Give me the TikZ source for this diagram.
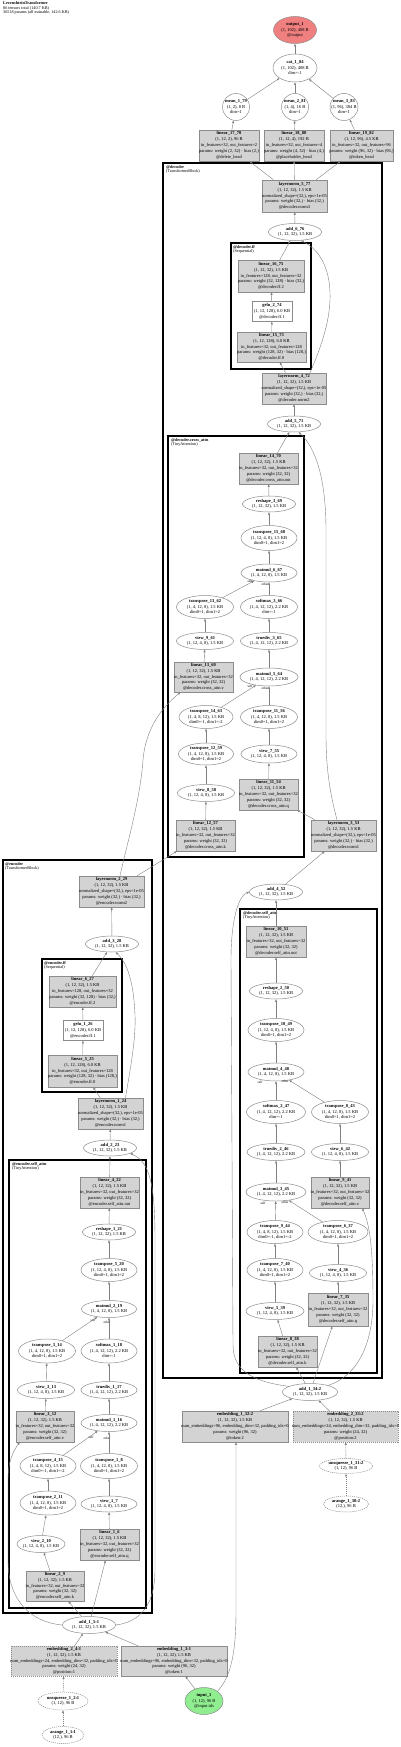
\documentclass[tikz,border=0pt]{standalone}
\usepackage{fontspec}
\setmainfont{Liberation Serif}
\usetikzlibrary{shapes.geometric,arrows.meta}
\definecolor{opGray}{RGB}{211,211,211}
\definecolor{outRed}{RGB}{240,128,128}
\definecolor{inGreen}{RGB}{144,238,144}
\newcommand{\Ntext}[1]{\makebox[0pt]{\raisebox{-0.25em}[0pt][0pt]{\begin{tabular}{@{}c@{}}#1\end{tabular}}}}
\tikzset{
  sz/.style 2 args={minimum width=#1pt,minimum height=#2pt},
  tbox/.style={rectangle,draw=black!45,fill=opGray,line width=0.5pt,inner sep=0pt,font=\fontsize{4.5}{5.8}\selectfont},
  wbox/.style={tbox,fill=white},
  opnode/.style={ellipse,draw=black!45,fill=white,line width=0.5pt,inner sep=0pt,font=\fontsize{4.5}{5.8}\selectfont},
  ghost/.style={dash pattern=on 1.1pt off 0.9pt},
  cluster/.style={draw=black,line width=1.4pt},
  clab/.style={anchor=north west,align=left,inner sep=0pt,font=\fontsize{4.2}{4.6}\selectfont},
  hdr/.style={anchor=north west,align=left,inner sep=0pt,font=\fontsize{4.2}{4.4}\selectfont},
  flow/.style={-{Triangle[length=2.6pt,width=2pt]},draw=black!50,line width=0.4pt},
  elab/.style={inner sep=0pt,font=\fontsize{3.4}{4}\selectfont},
}
\begin{document}
\catcode`\_=12
\begin{tikzpicture}[x=1pt,y=-1pt]
\fill[white] (0,0) rectangle (400,1747);
\useasboundingbox (0,0) rectangle (400,1747);

% clusters
\draw[cluster] (163,163) rectangle (382,1378);
\draw[cluster] (231,243) rectangle (311,369);
\draw[cluster] (168,436) rectangle (304,857);
\draw[cluster] (240,909) rectangle (377,1373);
\draw[cluster] (3,860) rectangle (152,1613);
\draw[cluster] (42,959) rectangle (122,1092);
\draw[cluster] (9,1160) rectangle (146,1608);
\node[clab] (decLab) at (166,165) {\textbf{@decoder}\\(TransformerBlock)};
\node[clab] (decffLab) at (233,245) {\textbf{@decoder.ff}\\(Sequential)};
\node[clab] (crossLab) at (171,438) {\textbf{@decoder.cross_attn}\\(TinyAttention)};
\node[clab] (dsaLab) at (243,911) {\textbf{@decoder.self_attn}\\(TinyAttention)};
\node[clab] (encLab) at (5,862) {\textbf{@encoder}\\(TransformerBlock)};
\node[clab] (encffLab) at (44,961) {\textbf{@encoder.ff}\\(Sequential)};
\node[clab] (esaLab) at (12,1162) {\textbf{@encoder.self_attn}\\(TinyAttention)};

\node[hdr] (title) at (3,1.5) {\textbf{LevenshteinTransformer}\\86 tensors total (140.7 KB)\\36518 params (all trainable, 142.6 KB)};

% heads
\node[opnode,fill=outRed,sz={43}{27}] (out1) at (295,30) {\Ntext{\textbf{output_1}\\(1, 102), 408 B\\@output}};
\node[opnode,sz={44}{28}] (cat1) at (295,68) {\Ntext{\textbf{cat_1_84}\\(1, 102), 408 B\\dim=-1}};
\node[opnode,sz={27}{27}] (mean1) at (236,107) {\Ntext{\textbf{mean_1_79}\\(1, 2), 8 B\\dim=1}};
\node[opnode,sz={27}{27}] (mean2) at (295,107) {\Ntext{\textbf{mean_2_81}\\(1, 4), 16 B\\dim=1}};
\node[opnode,sz={28}{27}] (mean3) at (344,107) {\Ntext{\textbf{mean_3_83}\\(1, 96), 384 B\\dim=1}};
\node[tbox,sz={60}{31}] (lin17) at (229,145.5) {\Ntext{\textbf{linear_17_78}\\(1, 12, 2), 96 B\\in_features=32, out_features=2\\params: weight (2, 32) · bias (2,)\\@delete_head}};
\node[tbox,sz={60}{31}] (lin18) at (294,145.5) {\Ntext{\textbf{linear_18_80}\\(1, 12, 4), 192 B\\in_features=32, out_features=4\\params: weight (4, 32) · bias (4,)\\@placeholder_head}};
\node[tbox,sz={63}{31}] (lin19) at (361.5,145.5) {\Ntext{\textbf{linear_19_82}\\(1, 12, 96), 4.5 KB\\in_features=32, out_features=96\\params: weight (96, 32) · bias (96,)\\@token_head}};

% decoder
\node[tbox,sz={65}{32}] (ln5) at (294.5,196) {\Ntext{\textbf{layernorm_5_77}\\(1, 12, 32), 1.5 KB\\normalized_shape=(32,), eps=1e-05\\params: weight (32,) · bias (32,)\\@decoder.norm3}};
\node[opnode,sz={53}{17}] (add6) at (295,232) {\Ntext{\textbf{add_6_76}\\(1, 12, 32), 1.5 KB}};
\node[tbox,sz={66}{32}] (lin16) at (271,276) {\Ntext{\textbf{linear_16_75}\\(1, 12, 32), 1.5 KB\\in_features=128, out_features=32\\params: weight (32, 128) · bias (32,)\\@decoder.ff.2}};
\node[wbox,sz={40}{20}] (gelu2) at (272,311.5) {\Ntext{\textbf{gelu_2_74}\\(1, 12, 128), 6.0 KB\\@decoder.ff.1}};
\node[tbox,sz={69}{30}] (lin15) at (271.5,347) {\Ntext{\textbf{linear_15_73}\\(1, 12, 128), 6.0 KB\\in_features=32, out_features=128\\params: weight (128, 32) · bias (128,)\\@decoder.ff.0}};
\node[tbox,sz={64}{31}] (ln4) at (294,388.5) {\Ntext{\textbf{layernorm_4_72}\\(1, 12, 32), 1.5 KB\\normalized_shape=(32,), eps=1e-05\\params: weight (32,) · bias (32,)\\@decoder.norm2}};
\node[opnode,sz={53}{16}] (add5) at (294,424) {\Ntext{\textbf{add_5_71}\\(1, 12, 32), 1.5 KB}};

% decoder cross attention
\node[tbox,sz={59}{31}] (lin14) at (268.5,468.5) {\Ntext{\textbf{linear_14_70}\\(1, 12, 32), 1.5 KB\\in_features=32, out_features=32\\params: weight (32, 32)\\@decoder.cross_attn.out}};
\node[opnode,sz={53}{16}] (reshape3) at (269,504) {\Ntext{\textbf{reshape_3_69}\\(1, 12, 32), 1.5 KB}};
\node[opnode,sz={56}{25}] (tr15) at (269,538) {\Ntext{\textbf{transpose_15_68}\\(1, 12, 4, 8), 1.5 KB\\dim0=1, dim1=2}};
\node[opnode,sz={56}{18}] (mm6) at (269,573) {\Ntext{\textbf{matmul_6_67}\\(1, 4, 12, 8), 1.5 KB}};
\node[opnode,sz={57}{23}] (tr13) at (205,607) {\Ntext{\textbf{transpose_13_62}\\(1, 4, 12, 8), 1.5 KB\\dim0=1, dim1=2}};
\node[opnode,sz={57}{23}] (sm3) at (269,607) {\Ntext{\textbf{softmax_3_66}\\(1, 4, 12, 12), 2.2 KB\\dim=-1}};
\node[opnode,sz={57}{17}] (view9) at (205,641) {\Ntext{\textbf{view_9_61}\\(1, 12, 4, 8), 1.5 KB}};
\node[opnode,sz={57}{17}] (td3) at (269,641) {\Ntext{\textbf{truediv_3_65}\\(1, 4, 12, 12), 2.2 KB}};
\node[tbox,sz={59}{30}] (lin13) at (203.5,677) {\Ntext{\textbf{linear_13_60}\\(1, 12, 32), 1.5 KB\\in_features=32, out_features=32\\params: weight (32, 32)\\@decoder.cross_attn.v}};
\node[opnode,sz={58}{18}] (mm5) at (269,677) {\Ntext{\textbf{matmul_5_64}\\(1, 4, 12, 12), 2.2 KB}};
\node[opnode,sz={54}{23}] (tr14) at (206,717) {\Ntext{\textbf{transpose_14_63}\\(1, 4, 8, 12), 1.5 KB\\dim0=-1, dim1=-2}};
\node[opnode,sz={57}{23}] (tr11) at (269,717) {\Ntext{\textbf{transpose_11_56}\\(1, 4, 12, 8), 1.5 KB\\dim0=1, dim1=2}};
\node[opnode,sz={55}{22}] (tr12) at (206,754) {\Ntext{\textbf{transpose_12_59}\\(1, 4, 12, 8), 1.5 KB\\dim0=1, dim1=2}};
\node[opnode,sz={56}{18}] (view7) at (269,754) {\Ntext{\textbf{view_7_55}\\(1, 12, 4, 8), 1.5 KB}};
\node[opnode,sz={57}{17}] (view8) at (206,793) {\Ntext{\textbf{view_8_58}\\(1, 12, 4, 8), 1.5 KB}};
\node[tbox,sz={59}{31}] (lin11) at (268.5,794.5) {\Ntext{\textbf{linear_11_54}\\(1, 12, 32), 1.5 KB\\in_features=32, out_features=32\\params: weight (32, 32)\\@decoder.cross_attn.q}};
\node[tbox,sz={59}{31}] (lin12) at (205.5,835.5) {\Ntext{\textbf{linear_12_57}\\(1, 12, 32), 1.5 KB\\in_features=32, out_features=32\\params: weight (32, 32)\\@decoder.cross_attn.k}};
\node[tbox,sz={65}{31}] (ln3) at (343.5,835.5) {\Ntext{\textbf{layernorm_3_53}\\(1, 12, 32), 1.5 KB\\normalized_shape=(32,), eps=1e-05\\params: weight (32,) · bias (32,)\\@decoder.norm1}};
\node[elab] (mm6a) at (250,581) {self};
\node[elab] (mm6b) at (265,584) {other};
\node[elab] (mm5a) at (250,686.5) {self};
\node[elab] (mm5b) at (265,688) {other};

% decoder self attention
\node[opnode,sz={53}{16}] (add4) at (276,892) {\Ntext{\textbf{add_4_52}\\(1, 12, 32), 1.5 KB}};
\node[tbox,sz={60}{31}] (lin10) at (276,941.5) {\Ntext{\textbf{linear_10_51}\\(1, 12, 32), 1.5 KB\\in_features=32, out_features=32\\params: weight (32, 32)\\@decoder.self_attn.out}};
\node[opnode,sz={53}{16}] (reshape2) at (276,991) {\Ntext{\textbf{reshape_2_50}\\(1, 12, 32), 1.5 KB}};
\node[opnode,sz={56}{23}] (tr10) at (276,1030) {\Ntext{\textbf{transpose_10_49}\\(1, 12, 4, 8), 1.5 KB\\dim0=1, dim1=2}};
\node[opnode,sz={56}{18}] (mm4) at (276,1072) {\Ntext{\textbf{matmul_4_48}\\(1, 4, 12, 8), 1.5 KB}};
\node[opnode,sz={59}{23}] (sm2) at (276,1112) {\Ntext{\textbf{softmax_2_47}\\(1, 4, 12, 12), 2.2 KB\\dim=-1}};
\node[opnode,sz={57}{23}] (tr8) at (340,1112) {\Ntext{\textbf{transpose_8_43}\\(1, 4, 12, 8), 1.5 KB\\dim0=1, dim1=2}};
\node[opnode,sz={58}{17}] (td2) at (276,1152) {\Ntext{\textbf{truediv_2_46}\\(1, 4, 12, 12), 2.2 KB}};
\node[opnode,sz={57}{17}] (view6) at (340,1152) {\Ntext{\textbf{view_6_42}\\(1, 12, 4, 8), 1.5 KB}};
\node[opnode,sz={60}{18}] (mm3) at (276,1192) {\Ntext{\textbf{matmul_3_45}\\(1, 4, 12, 12), 2.2 KB}};
\node[tbox,sz={58}{31}] (lin9) at (340,1192.5) {\Ntext{\textbf{linear_9_41}\\(1, 12, 32), 1.5 KB\\in_features=32, out_features=32\\params: weight (32, 32)\\@decoder.self_attn.v}};
\node[opnode,sz={56}{23}] (tr9) at (275,1232) {\Ntext{\textbf{transpose_9_44}\\(1, 4, 8, 12), 1.5 KB\\dim0=-1, dim1=-2}};
\node[opnode,sz={60}{23}] (tr6) at (338,1232) {\Ntext{\textbf{transpose_6_37}\\(1, 4, 12, 8), 1.5 KB\\dim0=1, dim1=2}};
\node[opnode,sz={56}{23}] (tr7) at (275,1270) {\Ntext{\textbf{transpose_7_40}\\(1, 4, 12, 8), 1.5 KB\\dim0=1, dim1=2}};
\node[opnode,sz={57}{17}] (view4) at (338,1273) {\Ntext{\textbf{view_4_36}\\(1, 12, 4, 8), 1.5 KB}};
\node[opnode,sz={58}{17}] (view5) at (275,1311) {\Ntext{\textbf{view_5_39}\\(1, 12, 4, 8), 1.5 KB}};
\node[tbox,sz={60}{33}] (lin7) at (338,1309.5) {\Ntext{\textbf{linear_7_35}\\(1, 12, 32), 1.5 KB\\in_features=32, out_features=32\\params: weight (32, 32)\\@decoder.self_attn.q}};
\node[tbox,sz={59}{31}] (lin8) at (287.5,1351.5) {\Ntext{\textbf{linear_8_38}\\(1, 12, 32), 1.5 KB\\in_features=32, out_features=32\\params: weight (32, 32)\\@decoder.self_attn.k}};
\node[elab] (mm4a) at (260,1082) {self};
\node[elab] (mm4b) at (285,1081.5) {other};
\node[elab] (mm3a) at (263,1203) {self};
\node[elab] (mm3b) at (285,1202.5) {other};

% decoder embeddings
\node[opnode,sz={55}{17}] (add134) at (310,1392) {\Ntext{\textbf{add_1_34:2}\\(1, 12, 32), 1.5 KB}};
\node[tbox,sz={106}{31}] (emb132) at (235,1426.5) {\Ntext{\textbf{embedding_1_32:2}\\(1, 12, 32), 1.5 KB\\num_embeddings=96, embedding_dim=32, padding_idx=0\\params: weight (96, 32)\\@token:2}};
\node[tbox,ghost,sz={105}{31}] (emb233) at (345.5,1426.5) {\Ntext{\textbf{embedding_2_33:2}\\(1, 12, 32), 1.5 KB\\num_embeddings=24, embedding_dim=32, padding_idx=0\\params: weight (24, 32)\\@position:2}};
\node[opnode,ghost,sz={53}{15}] (unsq31) at (346,1466) {\Ntext{\textbf{unsqueeze_1_31:2}\\(1, 12), 96 B}};
\node[opnode,ghost,sz={45}{16}] (ar30) at (346,1504) {\Ntext{\textbf{arange_1_30:2}\\(12,), 96 B}};

% encoder
\node[tbox,sz={65}{31}] (ln2) at (111.5,891.5) {\Ntext{\textbf{layernorm_2_29}\\(1, 12, 32), 1.5 KB\\normalized_shape=(32,), eps=1e-05\\params: weight (32,) · bias (32,)\\@encoder.norm2}};
\node[opnode,sz={53}{16}] (add3) at (112,944) {\Ntext{\textbf{add_3_28}\\(1, 12, 32), 1.5 KB}};
\node[tbox,sz={67}{31}] (lin6) at (82.5,991.5) {\Ntext{\textbf{linear_6_27}\\(1, 12, 32), 1.5 KB\\in_features=128, out_features=32\\params: weight (32, 128) · bias (32,)\\@encoder.ff.2}};
\node[wbox,sz={40}{20}] (gelu1) at (83,1030.5) {\Ntext{\textbf{gelu_1_26}\\(1, 12, 128), 6.0 KB\\@encoder.ff.1}};
\node[tbox,sz={69}{32}] (lin5) at (82.5,1071) {\Ntext{\textbf{linear_5_25}\\(1, 12, 128), 6.0 KB\\in_features=32, out_features=128\\params: weight (128, 32) · bias (128,)\\@encoder.ff.0}};
\node[tbox,sz={65}{31}] (ln1) at (110.5,1113.5) {\Ntext{\textbf{layernorm_1_24}\\(1, 12, 32), 1.5 KB\\normalized_shape=(32,), eps=1e-05\\params: weight (32,) · bias (32,)\\@encoder.norm1}};
\node[opnode,sz={53}{16}] (add2) at (110,1148) {\Ntext{\textbf{add_2_23}\\(1, 12, 32), 1.5 KB}};

% encoder self attention
\node[tbox,sz={59}{31}] (lin4) at (109.5,1192.5) {\Ntext{\textbf{linear_4_22}\\(1, 12, 32), 1.5 KB\\in_features=32, out_features=32\\params: weight (32, 32)\\@encoder.self_attn.out}};
\node[opnode,sz={53}{16}] (reshape1) at (109,1232) {\Ntext{\textbf{reshape_1_21}\\(1, 12, 32), 1.5 KB}};
\node[opnode,sz={56}{23}] (tr5) at (109,1270) {\Ntext{\textbf{transpose_5_20}\\(1, 12, 4, 8), 1.5 KB\\dim0=1, dim1=2}};
\node[opnode,sz={55}{17}] (mm2) at (109,1309) {\Ntext{\textbf{matmul_2_19}\\(1, 4, 12, 8), 1.5 KB}};
\node[opnode,sz={57}{24}] (tr3) at (47,1351) {\Ntext{\textbf{transpose_3_14}\\(1, 4, 12, 8), 1.5 KB\\dim0=1, dim1=2}};
\node[opnode,sz={56}{24}] (sm1) at (109,1351) {\Ntext{\textbf{softmax_1_18}\\(1, 4, 12, 12), 2.2 KB\\dim=-1}};
\node[opnode,sz={57}{17}] (view3) at (46,1390) {\Ntext{\textbf{view_3_13}\\(1, 12, 4, 8), 1.5 KB}};
\node[opnode,sz={56}{17}] (td1) at (109,1390) {\Ntext{\textbf{truediv_1_17}\\(1, 4, 12, 12), 2.2 KB}};
\node[tbox,sz={58}{31}] (lin3) at (45,1426.5) {\Ntext{\textbf{linear_3_12}\\(1, 12, 32), 1.5 KB\\in_features=32, out_features=32\\params: weight (32, 32)\\@encoder.self_attn.v}};
\node[opnode,sz={56}{17}] (mm1) at (109,1423) {\Ntext{\textbf{matmul_1_16}\\(1, 4, 12, 12), 2.2 KB}};
\node[opnode,sz={56}{25}] (tr4) at (48,1466) {\Ntext{\textbf{transpose_4_15}\\(1, 4, 8, 12), 1.5 KB\\dim0=-1, dim1=-2}};
\node[opnode,sz={57}{25}] (tr1) at (109,1466) {\Ntext{\textbf{transpose_1_8}\\(1, 4, 12, 8), 1.5 KB\\dim0=1, dim1=2}};
\node[opnode,sz={56}{24}] (tr2) at (48,1503) {\Ntext{\textbf{transpose_2_11}\\(1, 4, 12, 8), 1.5 KB\\dim0=1, dim1=2}};
\node[opnode,sz={56}{16}] (view1) at (109,1504) {\Ntext{\textbf{view_1_7}\\(1, 12, 4, 8), 1.5 KB}};
\node[opnode,sz={48}{17}] (view2) at (41,1544) {\Ntext{\textbf{view_2_10}\\(1, 12, 4, 8), 1.5 KB}};
\node[tbox,sz={59}{31}] (lin1) at (109.5,1544.5) {\Ntext{\textbf{linear_1_6}\\(1, 12, 32), 1.5 KB\\in_features=32, out_features=32\\params: weight (32, 32)\\@encoder.self_attn.q}};
\node[tbox,sz={58}{30}] (lin2) at (55,1586) {\Ntext{\textbf{linear_2_9}\\(1, 12, 32), 1.5 KB\\in_features=32, out_features=32\\params: weight (32, 32)\\@encoder.self_attn.k}};
\node[elab] (mm2a) at (93,1320) {self};
\node[elab] (mm2b) at (107,1322) {other};
\node[elab] (mm1a) at (91,1437) {self};
\node[elab] (mm1b) at (107,1438) {other};

% encoder embeddings
\node[opnode,sz={53}{17}] (add15) at (89,1625) {\Ntext{\textbf{add_1_5:1}\\(1, 12, 32), 1.5 KB}};
\node[tbox,ghost,sz={106}{30}] (emb24) at (64,1661) {\Ntext{\textbf{embedding_2_4:1}\\(1, 12, 32), 1.5 KB\\num_embeddings=24, embedding_dim=32, padding_idx=0\\params: weight (24, 32)\\@position:1}};
\node[tbox,sz={106}{30}] (emb13) at (174,1661) {\Ntext{\textbf{embedding_1_3:1}\\(1, 12, 32), 1.5 KB\\num_embeddings=96, embedding_dim=32, padding_idx=0\\params: weight (96, 32)\\@token:1}};
\node[opnode,fill=inGreen,sz={38}{27}] (in1) at (204,1701) {\Ntext{\textbf{input_1}\\(1, 12), 96 B\\@input.ids}};
\node[opnode,ghost,sz={50}{18}] (unsq2) at (63,1701) {\Ntext{\textbf{unsqueeze_1_2:1}\\(1, 12), 96 B}};
\node[opnode,ghost,sz={42}{17}] (ar1) at (63,1735) {\Ntext{\textbf{arange_1_1:1}\\(12,), 96 B}};

% connectors: encoder
\draw[flow,ghost] (ar1) -- (unsq2);
\draw[flow,ghost] (unsq2) -- (emb24);
\draw[flow] (in1) -- (emb13);
\draw[flow] (emb24) -- (add15);
\draw[flow] (emb13) -- (add15);
\draw[flow] (in1.north east) .. controls (232,1675) and (236,1650) .. (236,1610) -- ([xshift=1pt]emb132.south);
\draw[flow] (add15) -- (lin1);
\draw[flow] (add15) -- (lin2);
\draw[flow] (add15.west) .. controls (30,1622) and (8,1600) .. (8,1560) -- (8,1480) .. controls (8,1460) and (14,1450) .. ([xshift=4pt]lin3.south west);
\draw[flow] (add15.east) .. controls (140,1622) and (155,1605) .. (155,1570) -- (155,1240) .. controls (155,1185) and (150,1162) .. (add2.-15);
\draw[flow] (lin1) -- (view1);
\draw[flow] (view1) -- (tr1);
\draw[flow] (tr1) -- (mm1);
\draw[flow] (lin2) -- (view2);
\draw[flow] (view2) -- (tr2);
\draw[flow] (tr2) -- (tr4);
\draw[flow] (tr4) -- (mm1);
\draw[flow] (lin3) -- (view3);
\draw[flow] (view3) -- (tr3);
\draw[flow] (tr3) -- (mm2);
\draw[flow] (mm1) -- (td1);
\draw[flow] (td1) -- (sm1);
\draw[flow] (sm1) -- (mm2);
\draw[flow] (mm2) -- (tr5);
\draw[flow] (tr5) -- (reshape1);
\draw[flow] (reshape1) -- (lin4);
\draw[flow] (lin4) -- (add2);
\draw[flow] (add2) -- (ln1);
\draw[flow] (ln1) -- (lin5);
\draw[flow] ([xshift=15pt]ln1.north) .. controls (130,1070) and (136,1040) .. (135,1015) .. controls (134,990) and (130,966) .. (add3.-65);
\draw[flow] (lin5) -- (gelu1);
\draw[flow] (gelu1) -- (lin6);
\draw[flow] (lin6) -- (add3);
\draw[flow] (add3) -- (ln2);
\draw[flow] ([xshift=-7pt]ln2.north east) -- ([xshift=1pt]lin12.south west);
\draw[flow] ([xshift=8.5pt]ln2.north) .. controls (128,840) and (140,800) .. (143,760) .. controls (146,725) and (165,705) .. ([xshift=-23pt]lin13.south);

% connectors: decoder
\draw[flow,ghost] (ar30) -- (unsq31);
\draw[flow,ghost] (unsq31) -- (emb233);
\draw[flow] ([xshift=25pt]emb132.north) -- (add134);
\draw[flow] (emb233) -- (add134);
\draw[flow] (add134) -- (lin7);
\draw[flow] (add134) -- (lin8);
\draw[flow] (add134.20) .. controls (360,1375) and (373,1340) .. (373,1300) .. controls (373,1250) and (370,1225) .. ([xshift=-7pt]lin9.south east);
\draw[flow] (add134.165) .. controls (255,1382) and (233,1372) .. (233,1345) -- (231,960) .. controls (231,915) and (240,895) .. (add4.west);
\draw[flow] (lin7) -- (view4);
\draw[flow] (view4) -- (tr6);
\draw[flow] (tr6) -- (mm3);
\draw[flow] (lin8) -- (view5);
\draw[flow] (view5) -- (tr7);
\draw[flow] (tr7) -- (tr9);
\draw[flow] (tr9) -- (mm3);
\draw[flow] (lin9) -- (view6);
\draw[flow] (view6) -- (tr8);
\draw[flow] (tr8) -- (mm4);
\draw[flow] (mm3) -- (td2);
\draw[flow] (td2) -- (sm2);
\draw[flow] (sm2) -- (mm4);
\draw[flow] (mm4) -- (tr10);
\draw[flow] (tr10) -- (reshape2);
\draw[flow] (reshape2) -- (lin10);
\draw[flow] (lin10) -- (add4);
\draw[flow] (add4) -- (ln3);
\draw[flow] (ln3) -- (lin11);
\draw[flow] ([xshift=-6.5pt]ln3.north) .. controls (329,790) and (326,765) .. (326,735) -- (326,530) .. controls (326,480) and (316,448) .. (add5.-60);
\draw[flow] (lin11) -- (view7);
\draw[flow] (view7) -- (tr11);
\draw[flow] (tr11) -- (mm5);
\draw[flow] (lin12) -- (view8);
\draw[flow] (view8) -- (tr12);
\draw[flow] (tr12) -- (tr14);
\draw[flow] (tr14) -- (mm5);
\draw[flow] (lin13) -- (view9);
\draw[flow] (view9) -- (tr13);
\draw[flow] (tr13) -- (mm6);
\draw[flow] (mm5) -- (td3);
\draw[flow] (td3) -- (sm3);
\draw[flow] (sm3) -- (mm6);
\draw[flow] (mm6) -- (tr15);
\draw[flow] (tr15) -- (reshape3);
\draw[flow] (reshape3) -- (lin14);
\draw[flow] (lin14) -- (add5);
\draw[flow] (add5) -- (ln4);
\draw[flow] (ln4) -- (lin15);
\draw[flow] ([xshift=16pt]ln4.north) .. controls (322,345) and (331,318) .. (330,292) .. controls (329,268) and (320,250) .. (add6.-55);
\draw[flow] (lin15) -- (gelu2);
\draw[flow] (gelu2) -- (lin16);
\draw[flow] (lin16) -- (add6);
\draw[flow] (add6) -- (ln5);
\draw[flow] (ln5) -- (lin17);
\draw[flow] (ln5) -- (lin18);
\draw[flow] (ln5) -- (lin19);
\draw[flow] (lin17) -- (mean1);
\draw[flow] (lin18) -- (mean2);
\draw[flow] (lin19) -- (mean3);
\draw[flow] (mean1) -- (cat1);
\draw[flow] (mean2) -- (cat1);
\draw[flow] (mean3) -- (cat1);
\draw[flow] (cat1) -- (out1);
\end{tikzpicture}
\end{document}
